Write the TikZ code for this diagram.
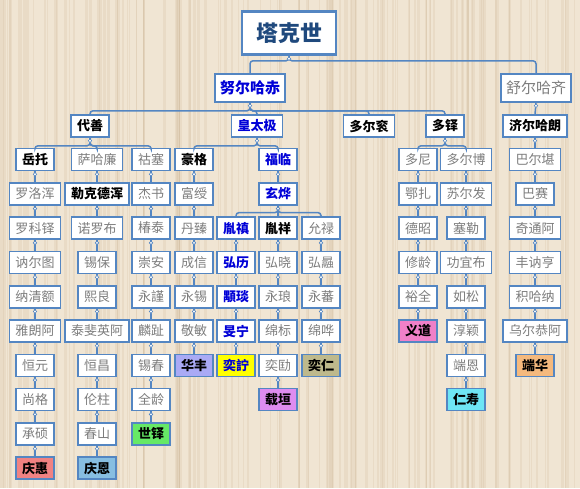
\documentclass[tikz,border=0pt]{standalone}
\usepackage{fontspec}
\setmainfont{Noto Sans CJK SC}

\definecolor{wood}{RGB}{240,229,211}
\definecolor{woodgrain}{RGB}{205,182,150}
\definecolor{boxblue}{RGB}{84,134,194}
\definecolor{textgrey}{RGB}{125,125,125}
\definecolor{mainblue}{RGB}{0,0,215}
\definecolor{rootblue}{RGB}{31,73,125}
\definecolor{salmon}{RGB}{240,130,130}
\definecolor{sky}{RGB}{135,190,225}
\definecolor{leaf}{RGB}{102,232,102}
\definecolor{lavender}{RGB}{170,170,245}
\definecolor{lemon}{RGB}{255,255,0}
\definecolor{khaki}{RGB}{190,185,140}
\definecolor{violet}{RGB}{222,140,240}
\definecolor{rose}{RGB}{240,128,200}
\definecolor{aqua}{RGB}{110,230,245}
\definecolor{peach}{RGB}{245,185,125}

\def\gensep{34.3}
\def\genone{159.5}

\begin{document}
\begin{tikzpicture}[x=1pt,y=-1pt]
	\tikzstyle{box}=[draw=boxblue, line width=1.6pt, fill=white, text=textgrey, minimum height=22pt, inner xsep=6pt, inner ysep=0pt, font=\fontsize{13}{13}\selectfont]
	\tikzstyle{plain}=[box]
	\tikzstyle{heir}=[box, text=black, font=\fontsize{13}{13}\selectfont\bfseries]
	\tikzstyle{main}=[heir, text=mainblue]
	\tikzstyle{salmonbox}=[heir, fill=salmon]
	\tikzstyle{skybox}=[heir, fill=sky]
	\tikzstyle{leafbox}=[heir, fill=leaf]
	\tikzstyle{lavenderbox}=[heir, fill=lavender]
	\tikzstyle{lemonbox}=[main, fill=lemon]
	\tikzstyle{khakibox}=[heir, fill=khaki]
	\tikzstyle{violetbox}=[heir, fill=violet]
	\tikzstyle{rosebox}=[heir, fill=rose]
	\tikzstyle{aquabox}=[heir, fill=aqua]
	\tikzstyle{peachbox}=[heir, fill=peach]
	\tikzstyle{bigbox}=[box, minimum height=28pt, inner xsep=5pt, font=\fontsize{15}{15}\selectfont]
	\tikzstyle{rootbox}=[box, line width=2.6pt, text=rootblue, minimum width=94pt, minimum height=43pt, font=\fontsize{22}{22}\selectfont\bfseries]
	\tikzstyle{knob}=[circle, draw=boxblue, fill=white, line width=0.6pt, inner sep=0pt, minimum size=3.5pt]
	\tikzstyle{link}=[draw=boxblue, line width=1.5pt, rounded corners=3pt]
	
	% Wooden background
	\useasboundingbox (0,0) rectangle (580,488);
	\fill[wood] (0,0) rectangle (580,488);
	\pgfmathsetseed{11}
	\foreach \i in {1,...,140}{
		\pgfmathsetmacro{\sx}{rnd*580}
		\pgfmathsetmacro{\sw}{0.4+rnd*3}
		\fill[woodgrain, opacity=0.2] (\sx,0) rectangle ++(\sw,488);
	}
	
	% Draw the root and the two brothers
	\node[rootbox] (R) at (289,33) {塔克世};
	\node[bigbox, text=mainblue, font=\fontsize{15}{15}\selectfont\bfseries] (N-1) at (250,88) {努尔哈赤};
	\node[bigbox] (N-2) at (536,88) {舒尔哈齐};
	
	% Draw the sons
	\foreach \x/\name/\kind [count=\n] in {90/代善/heir, 257/皇太极/main, 369/多尔衮/heir, 445/多铎/heir, 535/济尔哈朗/heir}
	\node[\kind] (L-\n) at (\x,126) {\name};
	
	% Draw the Daishan lines
	\foreach \y/\name/\kind in {1/岳托/heir, 2/罗洛浑/plain, 3/罗科铎/plain, 4/讷尔图/plain, 5/纳清额/plain, 6/雅朗阿/plain, 7/恒元/plain, 8/尚格/plain, 9/承硕/plain, 10/庆惠/salmonbox}
	\node[\kind] (A-\y) at (35,{\genone+\gensep*(\y-1)}) {\name};
	\foreach \y/\name/\kind in {1/萨哈廉/plain, 2/勒克德浑/heir, 3/诺罗布/plain, 4/锡保/plain, 5/熙良/plain, 6/泰斐英阿/plain, 7/恒昌/plain, 8/伦柱/plain, 9/春山/plain, 10/庆恩/skybox}
	\node[\kind] (B-\y) at (97,{\genone+\gensep*(\y-1)}) {\name};
	\foreach \y/\name/\kind in {1/祜塞/plain, 2/杰书/plain, 3/椿泰/plain, 4/崇安/plain, 5/永謹/plain, 6/麟趾/plain, 7/锡春/plain, 8/全龄/plain, 9/世铎/leafbox}
	\node[\kind] (C-\y) at (151,{\genone+\gensep*(\y-1)}) {\name};
	
	% Draw the Hong Taiji lines
	\foreach \y/\name/\kind in {1/豪格/heir, 2/富绶/plain, 3/丹臻/plain, 4/成信/plain, 5/永锡/plain, 6/敬敏/plain, 7/华丰/lavenderbox}
	\node[\kind] (D-\y) at (194,{\genone+\gensep*(\y-1)}) {\name};
	\foreach \y/\name/\kind in {3/胤禛/main, 4/弘历/main, 5/顒琰/main, 6/旻宁/main, 7/奕詝/lemonbox}
	\node[\kind] (E-\y) at (236,{\genone+\gensep*(\y-1)}) {\name};
	\foreach \y/\name/\kind in {1/福临/main, 2/玄烨/main, 3/胤祥/heir, 4/弘晓/plain, 5/永琅/plain, 6/绵标/plain, 7/奕劻/plain, 8/载垣/violetbox}
	\node[\kind] (F-\y) at (278,{\genone+\gensep*(\y-1)}) {\name};
	\foreach \y/\name/\kind in {3/允禄/plain, 4/弘曧/plain, 5/永蕃/plain, 6/绵哗/plain, 7/奕仁/khakibox}
	\node[\kind] (G-\y) at (321,{\genone+\gensep*(\y-1)}) {\name};
	
	% Draw the Dodo lines
	\foreach \y/\name/\kind in {1/多尼/plain, 2/鄂扎/plain, 3/德昭/plain, 4/修龄/plain, 5/裕全/plain, 6/义道/rosebox}
	\node[\kind] (H-\y) at (418,{\genone+\gensep*(\y-1)}) {\name};
	\foreach \y/\name/\kind in {1/多尔博/plain, 2/苏尔发/plain, 3/塞勒/plain, 4/功宜布/plain, 5/如松/plain, 6/淳颖/plain, 7/端恩/plain, 8/仁寿/aquabox}
	\node[\kind] (I-\y) at (466,{\genone+\gensep*(\y-1)}) {\name};
	
	% Draw the Jirgalang line
	\foreach \y/\name/\kind in {1/巴尔堪/plain, 2/巴赛/plain, 3/奇通阿/plain, 4/丰讷亨/plain, 5/积哈纳/plain, 6/乌尔恭阿/plain, 7/端华/peachbox}
	\node[\kind] (J-\y) at (535,{\genone+\gensep*(\y-1)}) {\name};
	
	% Connect the forks
	\foreach \n in {1,2}
	\path[link] (R.south) -- ++(0,5) -| (N-\n.north);
	\foreach \n in {1,...,4}
	\path[link] (N-1.south) -- ++(0,8) -| (L-\n.north);
	\path[link] (N-2.south) -- (L-5.north);
	\foreach \c in {A,B,C}
	\path[link] (L-1.south) -- ++(0,8) -| (\c-1.north);
	\foreach \c in {D,F}
	\path[link] (L-2.south) -- ++(0,8) -| (\c-1.north);
	\foreach \c in {H,I}
	\path[link] (L-4.south) -- ++(0,8) -| (\c-1.north);
	\path[link] (L-5.south) -- (J-1.north);
	\foreach \c in {E,G}
	\path[link] (F-2.south) -- ++(0,7) -| (\c-3.north);
	
	% Connect father and son down every column
	\foreach \c/\first/\last in {A/1/9, B/1/9, C/1/8, D/1/6, E/3/6, F/1/7, G/3/6, H/1/5, I/1/7, J/1/6}
	\foreach \y in {\first,...,\last}{
		\pgfmathtruncatemacro{\z}{\y+1}
		\path[link] (\c-\y.south) -- (\c-\z.north);
		\node[knob] (k-\c-\y) at ([yshift=-3pt]\c-\y.south) {};
	}
	
	% Small knobs under the fathers of the forks
	\foreach \p in {R,N-1,N-2,L-1,L-2,L-4,L-5}
	\node[knob] (k-\p) at ([yshift=-3pt]\p.south) {};
	
\end{tikzpicture}
\end{document}
